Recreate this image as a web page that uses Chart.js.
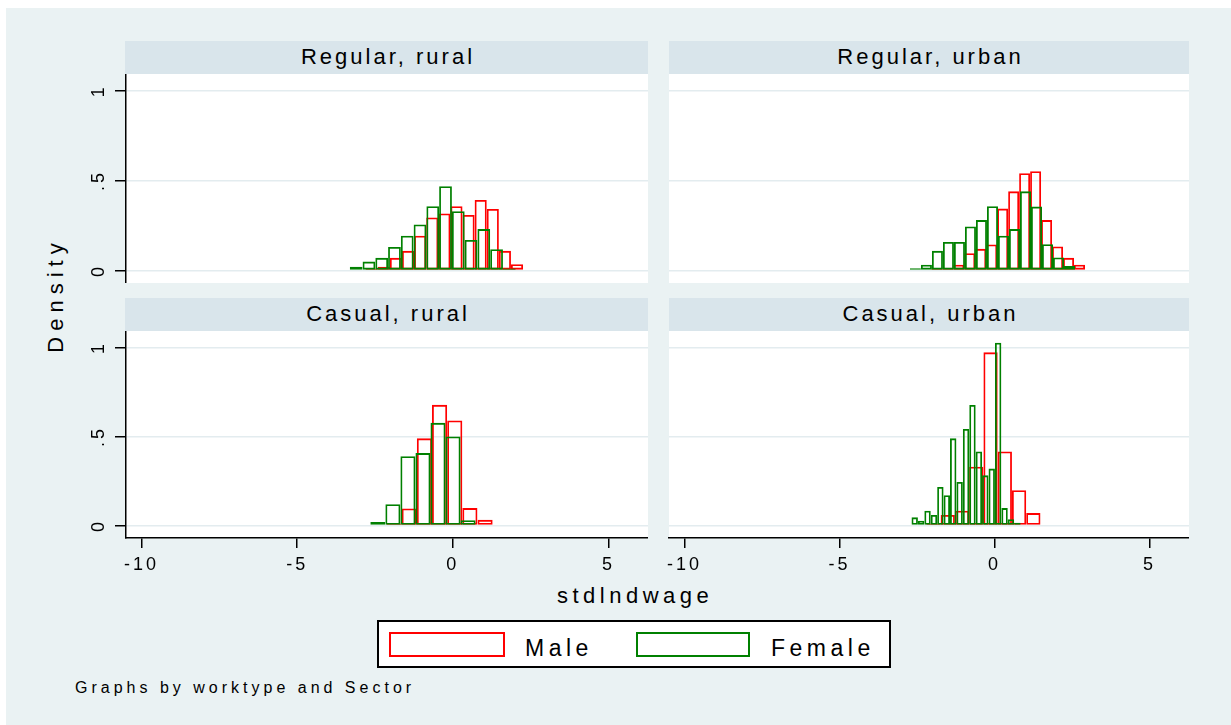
<!DOCTYPE html>
<html>
<head>
<meta charset="utf-8">
<title>stdlndwage by worktype and Sector</title>
<script src="https://cdn.jsdelivr.net/npm/chart.js@4.4.1/dist/chart.umd.min.js"></script>
<style>
  body { margin: 0; background: #fff; font-family: "Liberation Sans", Arial, sans-serif; color: #000; }
  #page { position: absolute; left: 6px; top: 8px; width: 1225px; height: 717px; background: #eaf2f3; }
  .strip { position: absolute; height: 33px; line-height: 31px; background: #d9e5eb; text-align: center;
           font-size: 22px; letter-spacing: 3px; padding-left: 3px; box-sizing: border-box; }
  canvas { position: absolute; }
  .txt { position: absolute; white-space: nowrap; }
  #ytitle { left: -14px; top: 286.5px; width: 140px; height: 22px; line-height: 22px; text-align: center;
            font-size: 22px; letter-spacing: 6px; padding-left: 6px; box-sizing: border-box; transform: rotate(-90deg); }
  #xtitle { left: 557px; top: 585px; font-size: 22px; line-height: 22px; letter-spacing: 4.5px; }
  #legend { position: absolute; left: 377px; top: 620px; width: 514px; height: 48px; box-sizing: border-box;
            border: 2px solid #000; background: #fff; }
  .swatch { position: absolute; top: 632px; height: 25px; box-sizing: border-box; background: #fff; border: 2px solid; }
  .legtxt { top: 637px; font-size: 23px; line-height: 23px; letter-spacing: 4.5px; }
  #note { left: 75px; top: 680px; font-size: 16px; line-height: 16px; letter-spacing: 4px; }
</style>
</head>
<body>
<div id="page"></div>

<div class="strip" style="left:125px;top:41px;width:523px">Regular, rural</div>
<div class="strip" style="left:669px;top:41px;width:520px">Regular, urban</div>
<div class="strip" style="left:125px;top:298px;width:523px">Casual, rural</div>
<div class="strip" style="left:669px;top:298px;width:520px">Casual, urban</div>

<canvas id="c-rr" width="568" height="209" style="left:80px;top:74px"></canvas>
<canvas id="c-ru" width="566" height="209" style="left:623px;top:74px"></canvas>
<canvas id="c-cr" width="568" height="249" style="left:80px;top:331px"></canvas>
<canvas id="c-cu" width="566" height="249" style="left:623px;top:331px"></canvas>

<div id="ytitle" class="txt">Density</div>
<div id="xtitle" class="txt">stdlndwage</div>

<div id="legend"></div>
<div class="swatch" style="left:389px;width:116px;border-color:#ff0000"></div>
<div class="txt legtxt" style="left:525px">Male</div>
<div class="swatch" style="left:636px;width:114px;border-color:#008000"></div>
<div class="txt legtxt" style="left:771px">Female</div>

<div id="note" class="txt">Graphs by worktype and Sector</div>

<script>
const xTicks = [-10, -5, 0, 5];
const xTickLabels = ["-10", "-5", "0", "5"];
const yTicks = [0, 0.5, 1];
const yTickLabels = ["0", ".5", "1"];
const xMin = -10.5;
const xMax = 6.27;
const yMin = -0.07;
const yMax = 1.093;

// bin midpoints and densities
const rrMaleBins = [-2.606, -2.217, -1.828, -1.439, -1.050, -0.661, -0.272, 0.117, 0.506, 0.895, 1.284, 1.673, 2.062];
const rrMaleDensity = [0.01, 0.02, 0.07, 0.109, 0.193, 0.295, 0.317, 0.357, 0.308, 0.392, 0.342, 0.109, 0.035];
const rrFemaleBins = [-3.105, -2.695, -2.285, -1.875, -1.465, -1.055, -0.645, -0.235, 0.175, 0.585, 0.995, 1.405, 1.815];
const rrFemaleDensity = [0.02, 0.049, 0.07, 0.131, 0.193, 0.256, 0.357, 0.468, 0.329, 0.169, 0.23, 0.118, 0.01];

const ruMaleBins = [-1.863, -1.509, -1.155, -0.801, -0.447, -0.093, 0.261, 0.615, 0.969, 1.323, 1.677, 2.031, 2.385, 2.739];
const ruMaleDensity = [0.01, 0.015, 0.032, 0.096, 0.12, 0.144, 0.344, 0.44, 0.541, 0.552, 0.28, 0.133, 0.07, 0.032];
const ruFemaleBins = [-2.553, -2.198, -1.843, -1.488, -1.133, -0.778, -0.423, -0.068, 0.287, 0.642, 0.997, 1.352, 1.707, 2.062, 2.417];
const ruFemaleDensity = [0.012, 0.032, 0.109, 0.158, 0.158, 0.245, 0.28, 0.357, 0.193, 0.23, 0.44, 0.355, 0.146, 0.072, 0.025];

const crMaleBins = [-1.887, -1.400, -0.913, -0.426, 0.062, 0.548, 1.036];
const crMaleDensity = [0.012, 0.096, 0.49, 0.678, 0.59, 0.098, 0.032];
const crFemaleBins = [-2.409, -1.926, -1.443, -0.960, -0.477, 0.007, 0.490];
const crFemaleDensity = [0.02, 0.12, 0.39, 0.407, 0.577, 0.50, 0.03];

const cuMaleBins = [-1.97, -1.51, -1.05, -0.59, -0.13, 0.33, 0.79, 1.25];
const cuMaleDensity = [0.012, 0.059, 0.083, 0.33, 0.973, 0.416, 0.198, 0.07];
const cuFemaleBins = [-2.576, -2.369, -2.162, -1.955, -1.748, -1.541, -1.334, -1.127, -0.920, -0.713, -0.506, -0.299, -0.092, 0.115, 0.322, 0.529, 0.736];
const cuFemaleDensity = [0.046, 0.027, 0.083, 0.059, 0.217, 0.17, 0.49, 0.245, 0.543, 0.677, 0.416, 0.282, 0.32, 1.027, 0.098, 0.036, 0.015];

const FONT = "'Liberation Sans', Arial, sans-serif";
const RED = "#ff0000";
const GREEN = "#008000";

// white plot region + stata-ish wide letter spacing for tick labels
const plotBg = {
  id: "plotBg",
  beforeUpdate(chart) {
    chart.ctx.letterSpacing = "3px";
  },
  beforeDraw(chart) {
    const { ctx, chartArea } = chart;
    ctx.letterSpacing = "3px";
    ctx.save();
    ctx.fillStyle = "#fff";
    ctx.fillRect(chartArea.left, chartArea.top, chartArea.right - chartArea.left, chartArea.bottom - chartArea.top);
    ctx.restore();
  }
};

function toPoints(bins, density) {
  return bins.map((x, i) => ({ x: x, y: density[i] }));
}

function histSet(label, bins, density, color, axisId, order) {
  return {
    label: label,
    data: toPoints(bins, density),
    xAxisID: axisId,
    order: order,
    backgroundColor: "rgba(0,0,0,0)",
    borderColor: color,
    borderWidth: 1.8,
    borderSkipped: false,
    inflateAmount: 0,
    barPercentage: 1,
    categoryPercentage: 1,
    grouped: false
  };
}

function xAxis(visible) {
  return {
    type: "linear",
    min: xMin,
    max: xMax,
    offset: false,
    display: visible,
    afterBuildTicks: function (s) { s.ticks = xTicks.map(v => ({ value: v })); },
    afterFit: function (s) {
      s.height = visible ? 42 : 0;
      s.paddingLeft = 0;
      s.paddingRight = 0;
    },
    grid: { drawOnChartArea: false, offset: false, tickLength: 10, color: "#000", lineWidth: 1.5 },
    border: { display: true, color: "#000", width: 1.5 },
    ticks: {
      color: "#000",
      padding: 6,
      maxRotation: 0,
      autoSkip: false,
      font: { family: FONT, size: 18 },
      callback: (v, i) => xTickLabels[i]
    }
  };
}

function makePanel(id, maleBins, maleDensity, femaleBins, femaleDensity, showX, showY) {
  return new Chart(document.getElementById(id), {
    type: "bar",
    data: {
      datasets: [
        histSet("Male", maleBins, maleDensity, RED, "x", 2),
        histSet("Female", femaleBins, femaleDensity, GREEN, "x2", 1)
      ]
    },
    options: {
      responsive: false,
      animation: false,
      events: [],
      layout: { padding: 0, autoPadding: false },
      plugins: { legend: { display: false }, tooltip: { enabled: false } },
      scales: {
        x: xAxis(showX),
        x2: Object.assign(xAxis(false), { display: false }),
        y: {
          type: "linear",
          min: yMin,
          max: yMax,
          afterBuildTicks: function (s) { s.ticks = yTicks.map(v => ({ value: v })); },
          afterFit: function (s) {
            s.width = 46;
            s.paddingTop = 0;
            s.paddingBottom = 0;
          },
          grid: {
            color: "#e3ecef",
            lineWidth: 1.5,
            tickColor: "#000",
            tickWidth: 1.5,
            tickLength: 11,
            drawTicks: showY
          },
          border: { display: showY, color: "#000", width: 1.5 },
          ticks: {
            display: showY,
            color: "#000",
            padding: 5.5,
            minRotation: 90,
            maxRotation: 90,
            crossAlign: "center",
            font: { family: FONT, size: 18 },
            callback: (v, i) => yTickLabels[i]
          }
        }
      }
    },
    plugins: [plotBg]
  });
}

makePanel("c-rr", rrMaleBins, rrMaleDensity, rrFemaleBins, rrFemaleDensity, false, true);
makePanel("c-ru", ruMaleBins, ruMaleDensity, ruFemaleBins, ruFemaleDensity, false, false);
makePanel("c-cr", crMaleBins, crMaleDensity, crFemaleBins, crFemaleDensity, true, true);
makePanel("c-cu", cuMaleBins, cuMaleDensity, cuFemaleBins, cuFemaleDensity, true, false);
</script>
</body>
</html>
